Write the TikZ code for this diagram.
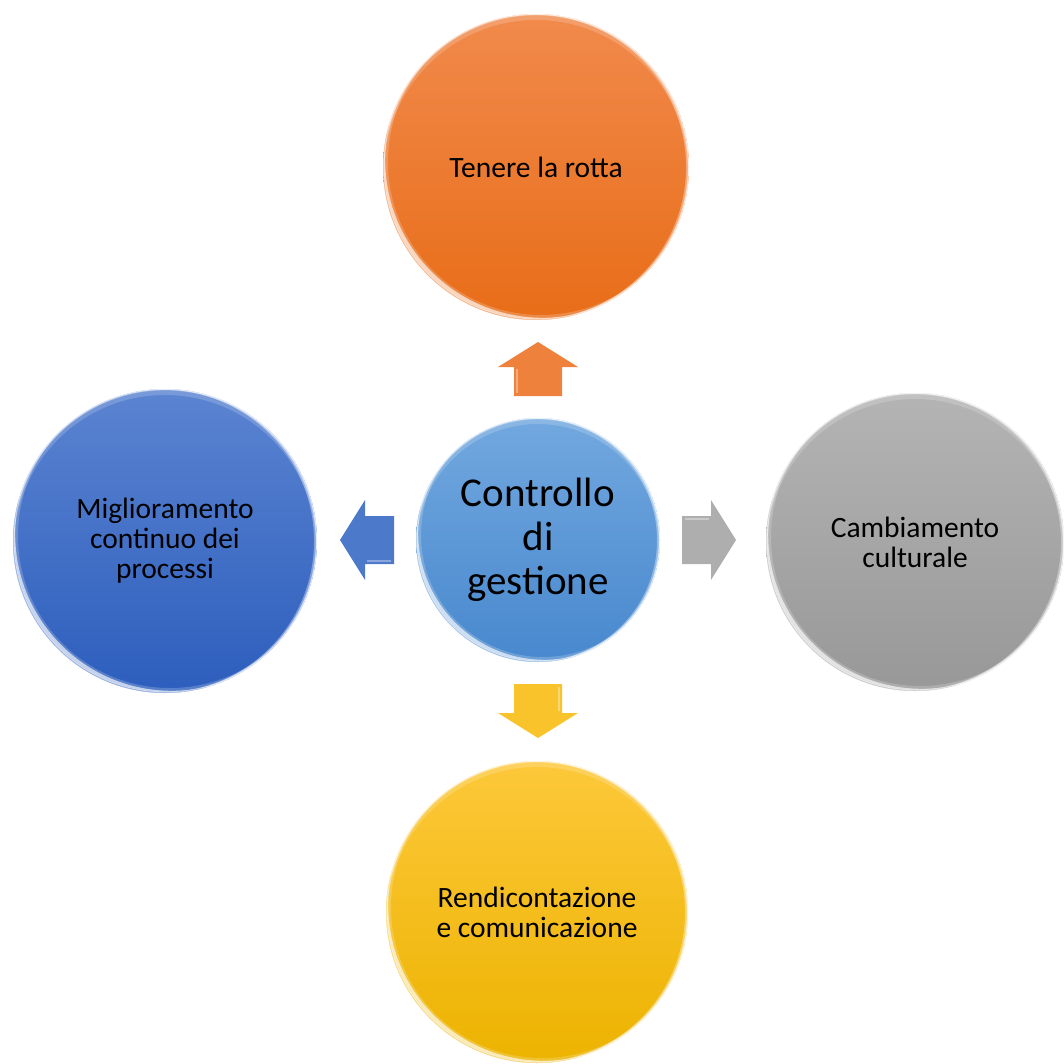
\documentclass[tikz,border=0pt]{standalone}
\usepackage{fontspec}
\setmainfont{Carlito}
\usetikzlibrary{calc}

% fill colours (top / bottom of each sphere)
\definecolor{orTop}{HTML}{F18A4C}
\definecolor{orBot}{HTML}{E86D18}
\definecolor{ctTop}{HTML}{72A8DF}
\definecolor{ctBot}{HTML}{4888CE}
\definecolor{blTop}{HTML}{5B84D1}
\definecolor{blBot}{HTML}{2D5EBD}
\definecolor{grTop}{HTML}{B4B4B4}
\definecolor{grBot}{HTML}{989898}
\definecolor{ylTop}{HTML}{FDC83A}
\definecolor{ylBot}{HTML}{ECB300}

\tikzset{
  bubble/.style={circle, inner sep=0pt, align=center, text=black,
    font=\fontsize{29.5}{30}\selectfont},
  hub/.style={bubble, font=\fontsize{41}{44}\selectfont},
  pics/pointer/.style={code={
    \fill[pic actions] (0,-24) -- (29,-24) -- (29,-40) -- (54,0)
      -- (29,40) -- (29,24) -- (0,24) -- cycle;
    \draw[white, opacity=.35, line width=1.5pt] (3,-21) -- (27,-21);
  }}
}

% glossy rim on a sphere: #1 node name, #2 radius
% (crescents cut out by shifted circles, clipped to the sphere)
\newcommand\rimgloss[2]{%
  \begin{scope}
    \clip (#1.center) circle (#2);
    % light edge all round
    \draw[white, opacity=.3, line width=1.4pt] (#1.center) circle (#2-0.7pt);
    % soft wide crescent, lower left
    \fill[white, opacity=.2, even odd rule] (#1.center) circle (#2)
      ($(#1.center)+(5pt,5pt)$) circle (#2);
    % bright narrow crescent, lower left
    \fill[white, opacity=.65, even odd rule]
      (#1.center) circle (#2-0.8pt)
      ($(#1.center)+(7pt,7pt)$) circle (#2+4.8pt);
    % soft band along the top
    \fill[white, opacity=.18, even odd rule] (#1.center) circle (#2)
      ($(#1.center)+(0pt,-5pt)$) circle (#2-1pt);
    % thin light edge on the right
    \fill[white, opacity=.35, even odd rule] (#1.center) circle (#2)
      ($(#1.center)+(-2.5pt,0pt)$) circle (#2-0.5pt);
  \end{scope}
}

\begin{document}
\begin{tikzpicture}[x=1pt, y=-1pt]
  \useasboundingbox (0,0) rectangle (1063,1064);
  \begin{scope}
    \clip (0,0) rectangle (1063,1064);

    % central sphere
    \node[hub, minimum size=244pt, top color=ctTop, bottom color=ctBot]
      (ctr) at (538,540) {Controllo\\di\\gestione};
    \rimgloss{ctr}{122pt}

    % outer spheres
    \node[bubble, minimum size=306pt, top color=orTop, bottom color=orBot]
      (rotta) at (536,167) {Tenere la rotta};
    \rimgloss{rotta}{153pt}

    \node[bubble, minimum size=304pt, top color=blTop, bottom color=blBot]
      (miglio) at (165,541) {Miglioramento\\continuo dei\\processi};
    \rimgloss{miglio}{152pt}

    \node[bubble, minimum size=298pt, top color=grTop, bottom color=grBot]
      (cultura) at (915,542) {Cambiamento\\culturale};
    \rimgloss{cultura}{149pt}

    \node[bubble, minimum size=302pt, top color=ylTop, bottom color=ylBot]
      (rendic) at (537,912) {Rendicontazione\\e comunicazione};
    \rimgloss{rendic}{151pt}

    % block arrows leaving the central sphere
    \pic[rotate=90, fill=orTop!70!orBot] at ($(ctr.center)+(0,-144)$) {pointer};
    \pic[rotate=180, fill=blTop!70!blBot] at ($(ctr.center)+(-144,0)$) {pointer};
    \pic[rotate=0, fill=grTop!80!grBot] at ($(ctr.center)+(144,0)$) {pointer};
    \pic[rotate=-90, fill=ylTop!75!ylBot] at ($(ctr.center)+(0,144)$) {pointer};
  \end{scope}
\end{tikzpicture}
\end{document}
